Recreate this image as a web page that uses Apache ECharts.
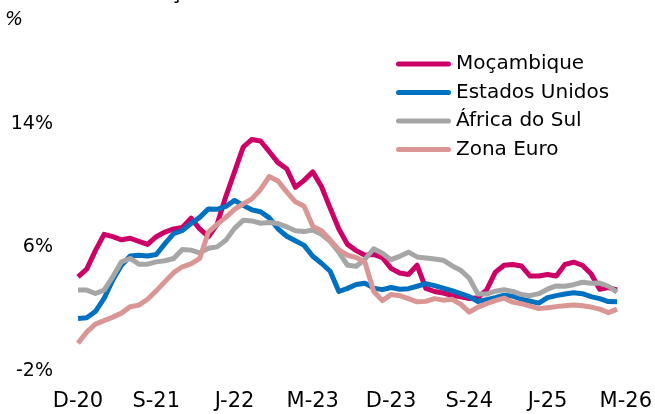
<!DOCTYPE html>
<html>
<head>
<meta charset="utf-8">
<script src="https://cdn.jsdelivr.net/npm/echarts@6/dist/echarts.min.js"></script>
<style>html,body{margin:0;padding:0;background:#fff}#c{width:655px;height:414px}</style>
</head>
<body>
<div id="c"></div>
<script>
var categories = ["D-20","J-21","F-21","M-21","A-21","M-21","J-21","J-21","A-21","S-21","O-21","N-21",
"D-21","J-22","F-22","M-22","A-22","M-22","J-22","J-22","A-22","S-22","O-22","N-22",
"D-22","J-23","F-23","M-23","A-23","M-23","J-23","J-23","A-23","S-23","O-23","N-23",
"D-23","J-24","F-24","M-24","A-24","M-24","J-24","J-24","A-24","S-24","O-24","N-24",
"D-24","J-25","F-25","M-25","A-25","M-25","J-25","J-25","A-25","S-25","O-25","N-25",
"D-25","J-26","F-26","M-26"];
var seriesNames = ["Moçambique","Estados Unidos","África do Sul","Zona Euro"];
var mozambique = [4.1,4.6,5.8,6.85,6.7,6.5,6.6,6.4,6.2,6.7,
7.0,7.2,7.3,7.9,7.2,6.7,7.5,9.3,10.9,12.5,
13.0,12.9,12.2,11.5,11.1,9.9,10.35,10.9,9.95,8.55,
7.2,6.2,5.8,5.5,5.55,5.35,4.65,4.35,4.25,4.85,
3.35,3.15,3.05,2.9,2.8,2.7,2.75,3.25,4.4,4.85,
4.9,4.8,4.15,4.15,4.25,4.15,4.9,5.05,4.85,4.3,
3.3,3.4,3.25];
var usa = [1.4,1.45,1.85,2.7,3.9,4.85,5.45,5.5,5.45,5.55,
6.25,6.9,7.1,7.55,7.95,8.5,8.47,8.66,9.05,8.73,
8.44,8.32,7.92,7.21,6.73,6.44,6.14,5.43,4.98,4.46,
3.15,3.35,3.6,3.69,3.37,3.27,3.41,3.3,3.33,3.49,
3.66,3.53,3.37,3.2,3.01,2.82,2.5,2.62,2.75,2.91,
2.85,2.65,2.52,2.4,2.75,2.88,2.99,3.07,3.01,2.82,
2.69,2.5,2.48];
var southAfrica = [3.24,3.24,3.02,3.24,4.1,5.07,5.29,4.92,4.92,5.07,
5.14,5.29,5.87,5.83,5.65,5.95,6.04,6.47,7.24,7.76,
7.72,7.57,7.62,7.55,7.34,7.08,7.03,7.13,6.86,6.4,
5.69,4.85,4.79,5.24,5.92,5.63,5.21,5.43,5.7,5.39,
5.32,5.25,5.18,4.82,4.53,4.01,2.98,2.98,3.17,3.26,
3.16,2.95,2.88,3.01,3.3,3.51,3.49,3.59,3.75,3.68,
3.7,3.49,3.11];
var euroArea = [-0.2,0.52,1.04,1.26,1.49,1.75,2.16,2.27,2.65,3.19,
3.79,4.37,4.75,4.94,5.3,7.0,7.5,7.95,8.47,8.83,
9.15,9.76,10.6,10.31,9.6,8.96,8.67,7.37,7.08,6.5,
5.85,5.5,5.35,5.05,3.17,2.56,2.95,2.88,2.69,2.48,
2.51,2.69,2.59,2.65,2.33,1.81,2.14,2.36,2.56,2.72,
2.46,2.36,2.2,2.04,2.1,2.17,2.23,2.27,2.23,2.14,
2.01,1.78,2.01];
var colors = ["#CC0066","#0070C0","#A6A6A6","#DA9694"];
var yMin = -2, yMax = 14, yStep = 8;

var FONT = "'DejaVu Sans', Tahoma, sans-serif";
var chart = echarts.init(document.getElementById('c'), null, {renderer:'canvas'});
var allData = [mozambique, usa, southAfrica, euroArea];
var series = seriesNames.map(function(n, k){
  return {
    name: n, type: 'line', data: allData[k], symbol: 'none', showSymbol: false,
    smooth: false, color: colors[k],
    lineStyle: {width: 5, color: colors[k], cap: 'butt', join: 'round'},
    emphasis: {disabled: true}
  };
});
chart.setOption({
  animation: false,
  backgroundColor: '#ffffff',
  grid: {left: 78, right: 27, top: 124, bottom: 43, containLabel: false},
  legend: {
    orient: 'vertical', left: 391, top: 49, itemGap: 8.5,
    itemWidth: 55, itemHeight: 5,
    icon: 'path://M2.5,0H52.5A2.5,2.5,0,0,1,52.5,5H2.5A2.5,2.5,0,0,1,2.5,0Z',
    textStyle: {fontFamily: FONT, fontSize: 20, lineHeight: 20, color: '#000'},
    data: seriesNames, selectedMode: false
  },
  xAxis: {
    type: 'category', data: categories, boundaryGap: false,
    axisLine: {show: false}, axisTick: {show: false}, splitLine: {show: false},
    axisLabel: {interval: 8, margin: 20, fontFamily: FONT, fontSize: 21, lineHeight: 21, color: '#000', showMaxLabel: true}
  },
  yAxis: {
    type: 'value', min: yMin, max: yMax, interval: yStep,
    axisLine: {show: false}, axisTick: {show: false}, splitLine: {show: false},
    axisLabel: {margin: 25, fontFamily: FONT, fontSize: 19, color: '#000', formatter: '{value}%'}
  },
  graphic: [
    {type: 'text', x: 5, y: 20, style: {text: '%', fontFamily: FONT, fontSize: 19, fontStyle: 'italic', fill: '#000', align: 'left', verticalAlign: 'middle'}},
    {type: 'text', x: 176, y: -6, style: {text: 'ç', fontFamily: FONT, fontSize: 20, fontWeight: 'bold', fill: '#000', align: 'center', verticalAlign: 'middle'}}
  ],
  series: series
});
</script>
</body>
</html>
